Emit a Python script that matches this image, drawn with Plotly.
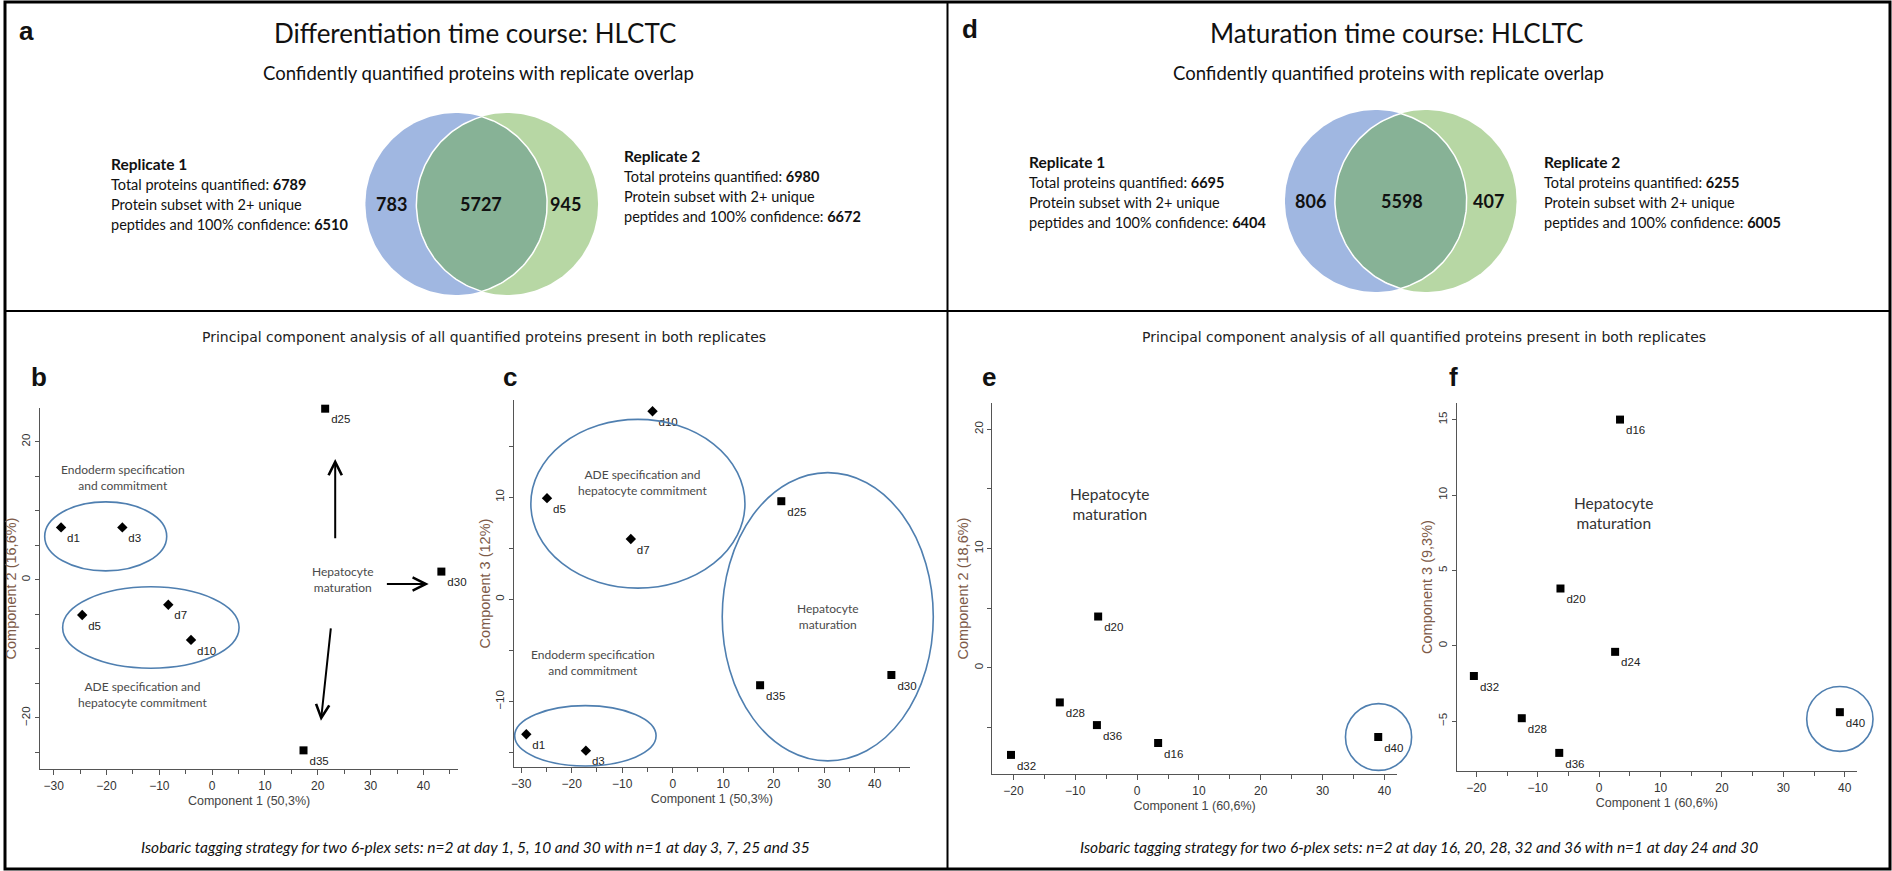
import numpy as np
import plotly.graph_objects as go

W, H = 1892, 871
LATO = "Lato, Carlito, Calibri, sans-serif"
ARIAL = "Liberation Sans, Arial, sans-serif"
NARROW = "Liberation Sans Narrow, Arial Narrow, Liberation Sans, sans-serif"
WIDE = "DejaVu Sans, Verdana, sans-serif"

# ---------------- data ----------------
# Panel a (differentiation time course) Venn
a_venn_counts = [783, 5727, 945]          # rep1 only, both, rep2 only
a_rep1_totals = [6789, 6510]              # total quantified, 2+ peptides & 100% conf
a_rep2_totals = [6980, 6672]
# Panel d (maturation time course) Venn
d_venn_counts = [806, 5598, 407]
d_rep1_totals = [6695, 6404]
d_rep2_totals = [6255, 6005]

# Panel b / c PCA (differentiation)
bc_labels = ["d1", "d3", "d5", "d7", "d10", "d25", "d30", "d35"]
bc_symbols = ["diamond", "diamond", "diamond", "diamond", "diamond", "square", "square", "square"]
b_pc1 = [-28.6, -17.0, -24.6, -8.3, -4.0, 21.4, 43.4, 17.3]
b_pc2 = [7.6, 7.6, -5.1, -3.6, -8.7, 24.8, 1.2, -24.7]
c_pc1 = [-29.0, -17.2, -24.9, -8.3, -4.0, 21.5, 43.3, 17.3]
c_pc3 = [-13.2, -14.8, 9.9, 5.9, 18.4, 9.6, -7.4, -8.4]

# Panel e / f PCA (maturation)
ef_labels = ["d16", "d20", "d24", "d28", "d32", "d36", "d40"]
e_pc1 = [3.4, -6.3, 2.7, -12.5, -20.4, -6.5, 39.0]
e_pc2 = [-6.3, 4.3, 22.6, -2.9, -7.3, -4.8, -5.8]
f_pc1 = [3.4, -6.3, 2.6, -12.6, -20.4, -6.5, 39.2]
f_pc3 = [15.0, 3.8, -0.4, -4.8, -2.0, -7.1, -4.4]

# ---------------- layout helpers ----------------
def dom(x0, x1, y0, y1):
    return [x0 / W, x1 / W], [1 - y1 / H, 1 - y0 / H]

fig = go.Figure()
annotations = []
shapes = []

def ann(text, x, y, size, family=LATO, color="#111", xanchor="center", yanchor="middle",
        xref="x5", yref="y5", **kw):
    annotations.append(dict(text=text, x=x, y=y, xref=xref, yref=yref, showarrow=False,
                            xanchor=xanchor, yanchor=yanchor,
                            font=dict(size=size, family=family, color=color), **kw))

# ---------------- axes ----------------
tickfont = dict(family=NARROW, size=12, color="#333")
def xax(domain, rng, title, anchor):
    return dict(domain=domain, range=rng, anchor=anchor, showgrid=False, zeroline=False,
                showline=True, linecolor="#555", linewidth=1.3, ticks="outside", ticklen=5,
                tickwidth=1.2, tickcolor="#555", dtick=10, tick0=0, tickfont=tickfont,
                minor=dict(dtick=5, tick0=0, ticks="outside", ticklen=4, tickwidth=1.2,
                           tickcolor="#555", showgrid=False),
                title=dict(text=title, font=dict(family=NARROW, size=12.5, color="#444"),
                           standoff=4))

def yax(domain, rng, title, dtick, anchor, minor=5):
    d = dict(domain=domain, range=rng, anchor=anchor, showgrid=False, zeroline=False,
             showline=True, linecolor="#555", linewidth=1.3, ticks="outside", ticklen=4,
             tickwidth=1.2, tickcolor="#555", dtick=dtick, tick0=0, tickangle=-90,
             tickfont=dict(family=NARROW, size=11.5, color="#333"),
             title=dict(text=title, font=dict(family=ARIAL, size=14.5, color="#7d5a48"),
                        standoff=0))
    if minor:
        d["minor"] = dict(dtick=minor, tick0=0, ticks="outside", ticklen=4, tickwidth=1.2,
                          tickcolor="#555", showgrid=False)
    return d

# pixel boxes of the four PCA panels (left, right, top, bottom) and data ranges
boxes = {
    "b": (37, 456, 408, 769), "c": (512, 908, 400, 767),
    "e": (991, 1396, 403, 774), "f": (1456, 1857, 403, 771),
}
ranges = {
    "b": ([-32.6, 46.6], [-27.4, 24.9]), "c": ([-31.4, 46.9], [-16.4, 19.5]),
    "e": ([-23.4, 42.0], [-8.9, 22.2]), "f": ([-23.2, 42.0], [-8.3, 16.1]),
}

def to_px(panel, x, y):
    l, r, t, b = boxes[panel]
    (x0, x1), (y0, y1) = ranges[panel]
    return l + (x - x0) / (x1 - x0) * (r - l), b - (y - y0) / (y1 - y0) * (b - t)

layout_axes = {}
for i, (p, xt, yt, dt, mn) in enumerate([
        ("b", "Component 1 (50,3%)", "Component 2 (16,6%)", 20, 5),
        ("c", "Component 1 (50,3%)", "Component 3 (12%)", 10, 5),
        ("e", "Component 1 (60,6%)", "Component 2 (18,6%)", 10, 5),
        ("f", "Component 1 (60,6%)", "Component 3 (9,3%)", 5, None)], start=1):
    dx, dy = dom(*boxes[p])
    sfx = "" if i == 1 else str(i)
    layout_axes["xaxis" + sfx] = xax(dx, ranges[p][0], xt, "y" + sfx)
    layout_axes["yaxis" + sfx] = yax(dy, ranges[p][1], yt, dt, "x" + sfx, mn)
layout_axes["xaxis5"] = dict(domain=[0, 1], range=[0, W], visible=False, anchor="y5", fixedrange=True)
layout_axes["yaxis5"] = dict(domain=[0, 1], range=[H, 0], visible=False, anchor="x5", fixedrange=True)

# ---------------- scatter traces ----------------
def pca_trace(xs, ys, labels, symbols, xa, ya):
    return go.Scatter(x=xs, y=ys, text=labels, mode="markers+text", xaxis=xa, yaxis=ya,
                      textposition="bottom right", cliponaxis=False,
                      marker=dict(symbol=symbols, size=8, color="black"),
                      textfont=dict(family=NARROW, size=11.5, color="#222"),
                      showlegend=False, hoverinfo="skip")

fig.add_trace(pca_trace(b_pc1, b_pc2, bc_labels, bc_symbols, "x", "y"))
fig.add_trace(pca_trace(c_pc1, c_pc3, bc_labels, bc_symbols, "x2", "y2"))
fig.add_trace(pca_trace(e_pc1, e_pc2, ef_labels, "square", "x3", "y3"))
fig.add_trace(pca_trace(f_pc1, f_pc3, ef_labels, "square", "x4", "y4"))

# ---------------- group ellipses (data-space bounds, drawn unclipped) ----------------
ELL = "#4f7fb0"
ellipses = {
    "b": [(-31.7, -8.6, 1.3, 11.3), (-28.3, 5.1, -12.8, -1.0)],
    "c": [(-28.1, 14.3, 1.1, 17.6), (-31.3, -3.3, -16.3, -10.4), (9.8, 51.6, -15.8, 12.4)],
    "e": [(33.7, 44.4, -8.6, -3.0)],
    "f": [(33.8, 44.6, -7.0, -2.7)],
}
for p, lst in ellipses.items():
    for x0, x1, y0, y1 in lst:
        px0, py0 = to_px(p, x0, y0)
        px1, py1 = to_px(p, x1, y1)
        shapes.append(dict(type="circle", xref="x5", yref="y5", x0=px0, x1=px1, y0=py0, y1=py1,
                           line=dict(color=ELL, width=1.6)))

grey = "#4a4a4a"
ann("Endoderm specification<br>and commitment", -16.8, 14.8, 12, color=grey, xref="x", yref="y")
ann("ADE specification and<br>hepatocyte commitment", -13.2, -16.6, 12, color=grey, xref="x", yref="y")
ann("Hepatocyte<br>maturation", 24.7, 0.0, 12, color=grey, xref="x", yref="y")
ann("ADE specification and<br>hepatocyte commitment", -5.9, 11.4, 12, color=grey, xref="x2", yref="y2")
ann("Endoderm specification<br>and commitment", -15.7, -6.2, 12, color=grey, xref="x2", yref="y2")
ann("Hepatocyte<br>maturation", 30.7, -1.7, 12, color=grey, xref="x2", yref="y2")
ann("Hepatocyte<br>maturation", -4.4, 13.7, 15.5, color="#333", xref="x3", yref="y3")
ann("Hepatocyte<br>maturation", 2.3, 8.8, 15.5, color="#333", xref="x4", yref="y4")

# arrows in panel b
for (x0, y0, x1, y1) in [(23.3, 5.8, 23.3, 17.5), (22.5, -6.8, 20.6, -20.4), (32.8, -0.6, 41.0, -0.6)]:
    annotations.append(dict(x=x1, y=y1, ax=x0, ay=y0, xref="x", yref="y", axref="x", ayref="y",
                            showarrow=True, arrowhead=5, arrowsize=1.3, arrowwidth=2,
                            arrowcolor="black", text=""))

# ---------------- Venn diagrams ----------------
BLUE, GREEN, LENS = "#a0b7e1", "#b7d7a4", "#87b296"
def venn(cxb, cxg, cy, r, counts, xs_num):
    t = np.linspace(0, 2 * np.pi, 200)
    for cxx, col in [(cxb, BLUE), (cxg, GREEN)]:
        fig.add_trace(go.Scatter(x=cxx + r * np.cos(t), y=cy + r * np.sin(t), fill="toself",
                                 fillcolor=col, line=dict(width=0), mode="lines",
                                 xaxis="x5", yaxis="y5", showlegend=False, hoverinfo="skip"))
    d = cxg - cxb
    al = np.arccos((d / 2) / r)
    ta = np.linspace(-al, al, 100)
    tb = np.linspace(np.pi - al, np.pi + al, 100)
    lx = np.concatenate([cxb + r * np.cos(ta), cxg + r * np.cos(tb)])
    ly = np.concatenate([cy + r * np.sin(ta), cy + r * np.sin(tb)])
    lx = np.append(lx, lx[0]); ly = np.append(ly, ly[0])
    fig.add_trace(go.Scatter(x=lx, y=ly, fill="toself", fillcolor=LENS,
                             line=dict(width=1.5, color="white"), mode="lines",
                             xaxis="x5", yaxis="y5", showlegend=False, hoverinfo="skip"))
    for val, xx in zip(counts, xs_num):
        ann(f"<b>{val}</b>", xx, cy, 18, color="#111")

venn(454, 505, 204, 91, a_venn_counts, [389, 479, 563])
venn(1375, 1425, 201, 91, d_venn_counts, [1310, 1401, 1488])

def replicate_block(x, y, name, totals):
    ann(f"<b>{name}</b>", x, y, 15.5, xanchor="left")
    ann(f"Total proteins quantified: <b>{totals[0]}</b>", x, y + 20, 14.5, xanchor="left")
    ann("Protein subset with 2+ unique", x, y + 40, 14.5, xanchor="left")
    ann(f"peptides and 100% confidence: <b>{totals[1]}</b>", x, y + 60, 14.5, xanchor="left")

replicate_block(106, 164, "Replicate 1", a_rep1_totals)
replicate_block(620, 156, "Replicate 2", a_rep2_totals)
replicate_block(1026, 162, "Replicate 1", d_rep1_totals)
replicate_block(1541, 162, "Replicate 2", d_rep2_totals)

# ---------------- titles & labels ----------------
ann("Differentiation time course: HLCTC", 473, 33, 26)
ann("Maturation time course: HLCLTC", 1396, 33, 26)
ann("Confidently quantified proteins with replicate overlap", 476, 73, 18.5)
ann("Confidently quantified proteins with replicate overlap", 1388, 73, 18.5)
ann("Principal component analysis of all quantified proteins present in both replicates", 482, 337, 14, family=WIDE, color="#222")
ann("Principal component analysis of all quantified proteins present in both replicates", 1423, 337, 14, family=WIDE, color="#222")
ann("<i>Isobaric tagging strategy for two 6-plex sets: n=2 at day 1, 5, 10 and 30 with n=1 at day 3, 7, 25 and 35</i>",
    473, 847, 15.5)
ann("<i>Isobaric tagging strategy for two 6-plex sets: n=2 at day 16, 20, 28, 32 and 36 with n=1 at day 24 and 30</i>",
    1418, 847, 15.5)

for lab, x, y in [("a", 24, 31), ("d", 969, 29), ("b", 36, 377), ("c", 508, 377), ("e", 988, 377), ("f", 1453, 377)]:
    ann(f"<b>{lab}</b>", x, y, 26, family=ARIAL)

# ---------------- frame ----------------
shapes.append(dict(type="rect", xref="x5", yref="y5", x0=2, x1=W - 2, y0=2, y1=H - 2,
                   line=dict(color="black", width=3)))
shapes.append(dict(type="line", xref="x5", yref="y5", x0=2, x1=W - 2, y0=311, y1=311,
                   line=dict(color="black", width=2)))
shapes.append(dict(type="line", xref="x5", yref="y5", x0=946, x1=946, y0=2, y1=H - 2,
                   line=dict(color="black", width=2)))

fig.update_layout(width=W, height=H, margin=dict(l=0, r=0, t=0, b=0),
                  plot_bgcolor="rgba(0,0,0,0)", paper_bgcolor="white",
                  annotations=annotations, shapes=shapes, showlegend=False,
                  **layout_axes)

fig.write_html("out.html", config={"displayModeBar": False},
               post_script="document.body.style.margin='0';document.body.style.overflow='hidden';")
